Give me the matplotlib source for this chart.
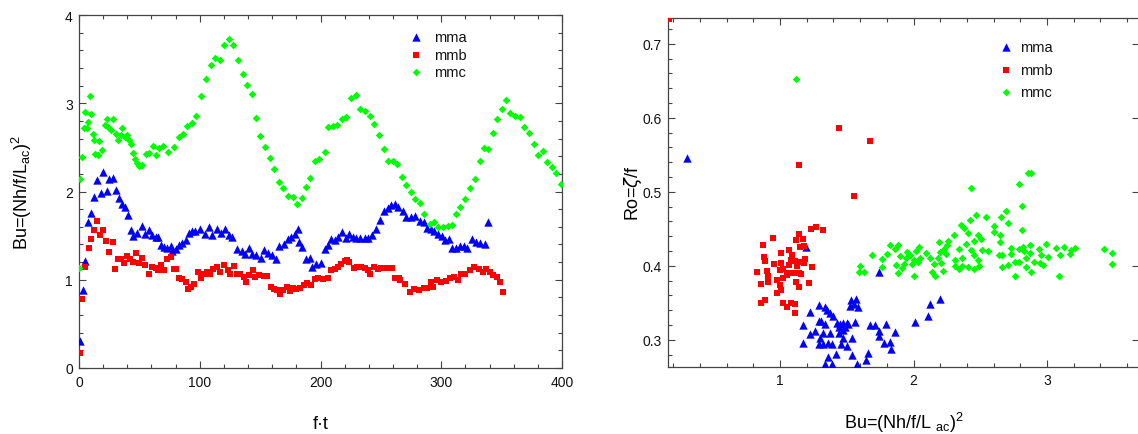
import matplotlib
matplotlib.use("Agg")
import matplotlib.pyplot as plt
from matplotlib.ticker import MultipleLocator

plt.rcParams['font.family'] = ['Liberation Sans', 'DejaVu Sans']
plt.rcParams['mathtext.default'] = 'regular'

# ---------------- left panel data: Bu vs f*t ----------------
mma_t = [0.8, 3.0, 5.2, 7.5, 10.1, 12.4, 15.2, 17.9, 20.1, 22.9, 25.1, 28.1, 30.3, 33.1, 35.3, 37.7,
         40.8, 42.7, 44.6, 48.2, 52.3, 54.3, 57.9, 60.6, 63.4, 65.6, 68.0, 70.8, 73.0, 75.8, 77.1, 80.0,
         82.6, 85.4, 88.2, 90.9, 93.7, 96.4, 100.6, 104.1, 107.4, 110.2, 114.3, 117.5, 120.7, 124.0,
         126.7, 131.0, 134.8, 137.6, 140.6, 143.1, 146.7, 150.8, 153.0, 156.4, 159.7, 163.3, 166.0,
         169.6, 172.9, 175.7, 178.5, 181.2, 182.6, 184.8, 188.1, 190.9, 193.1, 196.4, 200.0, 203.9,
         206.6, 208.8, 211.6, 214.9, 217.7, 221.3, 223.2, 226.8, 229.6, 233.1, 236.5, 239.2, 242.5,
         246.1, 248.9, 252.2, 255.8, 258.5, 261.4, 264.2, 268.3, 271.0, 275.2, 278.5, 282.1, 285.4,
         288.4, 291.2, 293.9, 297.2, 300.6, 303.3, 306.3, 308.8, 312.4, 315.7, 318.5, 321.5, 325.3,
         328.4, 332.5, 336.6, 338.6]
mma_bu = [0.31, 0.88, 1.21, 1.66, 1.76, 1.94, 2.13, 1.98, 2.22, 2.01, 2.14, 2.15, 2.02, 1.93, 1.86, 1.82,
          1.73, 1.56, 1.50, 1.53, 1.61, 1.52, 1.56, 1.51, 1.49, 1.48, 1.39, 1.37, 1.36, 1.38, 1.33, 1.35,
          1.39, 1.42, 1.45, 1.53, 1.55, 1.55, 1.58, 1.52, 1.60, 1.51, 1.58, 1.53, 1.58, 1.51,
          1.48, 1.35, 1.33, 1.29, 1.36, 1.29, 1.28, 1.25, 1.34, 1.30, 1.28, 1.23, 1.38,
          1.41, 1.46, 1.48, 1.52, 1.57, 1.43, 1.37, 1.24, 1.25, 1.14, 1.18, 1.19, 1.35,
          1.39, 1.46, 1.45, 1.48, 1.54, 1.47, 1.52, 1.49, 1.47, 1.47, 1.47, 1.47, 1.51,
          1.58, 1.68, 1.78, 1.81, 1.85, 1.86, 1.83, 1.78, 1.71, 1.71, 1.72, 1.67, 1.65,
          1.59, 1.58, 1.55, 1.52, 1.50, 1.45, 1.46, 1.36, 1.36, 1.38, 1.38, 1.36, 1.46,
          1.43, 1.42, 1.41, 1.66]

mmb_t = [0.7, 2.8, 5.0, 8.0, 10.2, 12.5, 15.3, 17.7, 20.0, 22.5, 25.2, 27.8, 30.2, 32.4, 34.8, 37.5,
         40.0, 42.3, 45.0, 47.6, 50.0, 52.5, 54.7, 57.7, 60.2, 63.4, 65.6, 68.3, 70.8, 73.0, 75.8, 78.5,
         80.7, 82.6, 85.4, 88.2, 90.1, 92.8, 95.6, 98.3, 101.1, 103.3, 106.1, 108.3, 111.0, 114.3,
         117.1, 119.8, 123.1, 125.3, 128.1, 130.5, 133.7, 136.5, 138.4, 141.2, 144.0, 145.9, 149.4,
         152.8, 155.8, 158.6, 161.3, 164.1, 166.6, 169.3, 172.4, 175.1, 177.1, 179.8, 183.1, 186.2,
         188.9, 192.3, 195.6, 198.3, 201.9, 206.1, 208.3, 211.6, 214.4, 217.1, 219.9, 222.1, 224.0,
         227.6, 230.4, 233.7, 236.5, 239.2, 241.4, 244.2, 247.5, 250.3, 253.0, 255.8, 259.4, 261.8,
         264.6, 266.1, 269.7, 273.8, 277.4, 281.3, 285.4, 288.4, 291.2, 293.4, 296.4, 300.0, 303.6,
         306.9, 310.5, 313.8, 316.5, 319.8, 323.7, 327.5, 330.9, 334.4, 337.2, 340.0, 342.7, 346.0,
         348.5, 351.2]
mmb_bu = [0.17, 0.78, 1.14, 1.36, 1.46, 1.56, 1.67, 1.51, 1.56, 1.44, 1.32, 1.43, 1.12, 1.24, 1.24, 1.19,
          1.27, 1.24, 1.20, 1.30, 1.19, 1.25, 1.17, 1.06, 1.15, 1.13, 1.11, 1.17, 1.11, 1.24, 1.26, 1.12,
          1.12, 1.02, 1.01, 0.98, 0.89, 0.92, 0.95, 1.09, 1.02, 1.07, 1.09, 1.07, 1.12, 1.14,
          1.09, 1.17, 1.11, 1.07, 1.16, 1.07, 1.06, 1.03, 0.97, 1.05, 1.11, 1.03, 1.05,
          1.04, 1.04, 0.92, 0.89, 0.88, 0.84, 0.88, 0.92, 0.87, 0.91, 0.90, 0.91, 0.94,
          0.96, 0.94, 1.01, 1.02, 1.01, 1.02, 1.11, 1.12, 1.15, 1.18, 1.21, 1.22, 1.20,
          1.13, 1.15, 1.14, 1.13, 1.11, 1.06, 1.14, 1.12, 1.13, 1.13, 1.13, 1.13, 1.02,
          1.02, 1.00, 0.95, 0.86, 0.90, 0.88, 0.91, 0.91, 0.98, 0.92, 1.00, 0.98, 0.99,
          1.02, 1.03, 1.00, 1.07, 1.06, 1.11, 1.14, 1.12, 1.09, 1.12, 1.09, 1.05, 1.03,
          0.97, 0.86]

mmc_t = [0.0, 1.2, 2.5, 3.8, 5.3, 6.8, 7.5, 9.0, 10.3, 11.7, 12.8, 13.6, 15.8, 16.5, 18.9, 21.8, 23.2,
         24.3, 26.4, 28.1, 31.0, 32.4, 34.4, 35.8, 38.0, 40.0, 41.3, 43.0, 44.8, 46.2, 48.0, 50.0, 52.5,
         55.9, 58.3, 61.0, 64.0, 66.6, 69.4, 74.0, 78.8, 82.6, 86.2, 89.8, 93.4, 97.3, 101.4, 105.5,
         109.3, 112.5, 116.5, 120.3, 124.0, 127.7, 131.5, 135.6, 139.3, 143.3, 146.3, 150.3, 154.3,
         158.0, 161.7, 165.3, 169.0, 172.7, 177.0, 180.7, 184.4, 188.0, 191.7, 195.4, 199.0, 203.4,
         206.4, 210.7, 213.8, 217.5, 221.5, 225.5, 229.8, 232.8, 236.8, 240.8, 244.5, 248.5, 252.5,
         256.0, 259.8, 263.3, 267.5, 271.0, 275.0, 278.6, 282.4, 286.0, 290.4, 294.0, 297.5, 301.5,
         305.5, 309.0, 312.2, 315.7, 319.8, 323.9, 328.1, 331.7, 335.0, 339.1, 342.7, 346.3, 350.1,
         354.0, 357.3, 361.2, 365.0, 368.9, 372.5, 376.6, 379.9, 384.0, 387.6, 391.5, 395.3, 399.2]
mmc_bu = [1.13, 2.14, 2.39, 2.72, 2.90, 2.72, 2.79, 3.08, 2.88, 2.65, 2.58, 2.42, 2.41, 2.57, 2.47, 2.75, 2.82,
          2.73, 2.70, 2.82, 2.65, 2.58, 2.64, 2.72, 2.62, 2.64, 2.58, 2.54, 2.44, 2.37, 2.32, 2.29, 2.30,
          2.43, 2.44, 2.51, 2.41, 2.49, 2.51, 2.45, 2.50, 2.62, 2.65, 2.74, 2.78, 2.86, 3.08, 3.28,
          3.43, 3.51, 3.49, 3.66, 3.73, 3.66, 3.49, 3.33, 3.21, 3.10, 2.83, 2.63, 2.50,
          2.38, 2.25, 2.11, 2.04, 1.95, 1.94, 1.86, 1.93, 2.05, 2.15, 2.35, 2.37, 2.45,
          2.73, 2.74, 2.75, 2.82, 2.84, 3.06, 3.09, 2.94, 2.91, 2.85, 2.76, 2.64, 2.48,
          2.34, 2.34, 2.31, 2.16, 2.07, 1.99, 1.92, 1.87, 1.74, 1.63, 1.66, 1.60, 1.60,
          1.61, 1.62, 1.75, 1.83, 1.92, 2.04, 2.14, 2.34, 2.49, 2.48, 2.66, 2.82, 2.94,
          3.04, 2.89, 2.85, 2.84, 2.73, 2.66, 2.54, 2.41, 2.46, 2.33, 2.28, 2.21, 2.08]

# ---------------- right panel data: Ro vs Bu ----------------
mma_bu2 = [0.30, 1.195, 1.74, 1.29, 1.34, 1.35, 1.375, 1.40, 1.53, 1.57, 1.55, 1.52, 1.58, 1.225, 1.29,
           1.31, 1.34, 1.17, 1.425, 1.45, 1.475, 1.50, 1.49, 1.51, 1.56, 1.44, 1.47, 1.26, 1.225, 1.32,
           1.375, 1.445, 1.54, 1.475, 1.30, 1.29, 1.325, 1.36, 1.39, 1.46, 1.50, 1.175, 1.42, 1.36,
           1.54, 1.34, 1.39, 1.575, 1.66, 1.645, 1.67, 1.71, 1.79, 1.74, 1.74, 1.86, 1.78, 1.825,
           1.83, 2.01, 2.11, 2.12, 2.20]
mma_ro = [0.545, 0.426, 0.392, 0.347, 0.345, 0.341, 0.336, 0.332, 0.354, 0.355, 0.348, 0.346, 0.344, 0.338, 0.326,
          0.326, 0.321, 0.320, 0.323, 0.321, 0.323, 0.323, 0.318, 0.321, 0.324, 0.317, 0.314, 0.312, 0.308, 0.310,
          0.309, 0.309, 0.303, 0.303, 0.303, 0.295, 0.295, 0.296, 0.295, 0.295, 0.292, 0.296, 0.281, 0.277,
          0.280, 0.267, 0.267, 0.268, 0.282, 0.273, 0.320, 0.320, 0.321, 0.312, 0.305, 0.311, 0.296, 0.297,
          0.288, 0.324, 0.332, 0.349, 0.355]

mmb_bu2 = [0.165, 1.44, 1.67, 1.14, 1.55, 1.27, 1.23, 1.325, 0.95, 1.14, 1.12, 1.17, 0.875, 1.15, 1.18,
           1.07, 1.01, 1.09, 0.88, 0.89, 0.955, 1.01, 1.11, 1.19, 1.125, 1.24, 1.025, 1.06, 0.83, 0.90,
           1.14, 1.16, 0.91, 0.975, 1.025, 1.05, 0.86, 0.91, 1.00, 1.12, 1.22, 1.01, 0.975, 0.89, 0.855,
           1.025, 1.05, 1.08, 1.11, 1.11, 1.07, 1.08, 1.16, 1.18, 1.10, 1.02, 1.14, 1.00]
mmb_ro = [0.733, 0.586, 0.569, 0.536, 0.494, 0.453, 0.450, 0.449, 0.438, 0.443, 0.435, 0.436, 0.428, 0.425, 0.427,
          0.422, 0.417, 0.414, 0.412, 0.407, 0.403, 0.404, 0.407, 0.409, 0.400, 0.399, 0.396, 0.391, 0.392, 0.393,
          0.390, 0.389, 0.386, 0.381, 0.384, 0.387, 0.375, 0.378, 0.374, 0.378, 0.377, 0.367, 0.364, 0.354, 0.350,
          0.350, 0.345, 0.350, 0.348, 0.337, 0.401, 0.408, 0.405, 0.404, 0.391, 0.383, 0.371, 0.395]

mmc_bu2 = [1.12, 2.43, 2.47, 2.425, 2.355, 2.38, 2.30, 2.405, 2.48, 2.26, 2.19, 2.25, 2.45, 1.82, 1.88,
           1.86, 2.04, 2.225, 2.34, 2.39, 2.43, 1.80, 1.95, 2.02, 2.095, 2.20, 2.24, 1.69, 1.76, 1.895,
           1.94, 1.975, 2.00, 2.05, 2.125, 2.18, 2.31, 2.36, 2.45, 2.48, 1.87, 1.925, 1.99, 2.03, 2.15,
           2.205, 2.31, 2.36, 2.41, 2.45, 2.49, 1.76, 1.60, 1.59, 1.63, 1.91, 1.88, 2.00, 2.14, 2.16,
           2.22, 2.34,
           2.88, 2.86, 2.79, 2.81, 2.695, 2.54, 2.655, 2.71, 2.60, 2.60, 2.815, 2.65, 2.65, 2.505,
           2.99, 2.87, 2.82, 2.79, 2.73, 2.94, 3.07, 3.125, 3.21, 3.18, 3.43, 3.49, 2.555, 2.51,
           2.825, 2.875, 2.73, 2.64, 2.66, 2.955, 3.01, 3.10, 3.175, 2.84, 2.79, 2.76, 2.905, 2.945,
           2.97, 2.71, 2.66, 2.84, 3.49, 2.76, 2.88, 3.09]
mmc_ro = [0.652, 0.505, 0.469, 0.462, 0.455, 0.451, 0.442, 0.444, 0.441, 0.434, 0.432, 0.428, 0.434, 0.428, 0.428,
          0.423, 0.425, 0.423, 0.423, 0.429, 0.421, 0.416, 0.419, 0.420, 0.418, 0.419, 0.416, 0.414, 0.409, 0.413,
          0.411, 0.414, 0.408, 0.410, 0.410, 0.411, 0.408, 0.411, 0.414, 0.408, 0.401, 0.402, 0.402, 0.405, 0.402,
          0.404, 0.400, 0.400, 0.398, 0.396, 0.400, 0.399, 0.400, 0.392, 0.392, 0.397, 0.390, 0.386, 0.392, 0.386,
          0.393, 0.396,
          0.525, 0.525, 0.511, 0.481, 0.474, 0.466, 0.466, 0.458, 0.454, 0.446, 0.449, 0.442, 0.432, 0.436,
          0.430, 0.428, 0.426, 0.423, 0.424, 0.423, 0.424, 0.426, 0.424, 0.422, 0.423, 0.418, 0.420, 0.421,
          0.420, 0.418, 0.416, 0.414, 0.414, 0.414, 0.412, 0.414, 0.416, 0.410, 0.405, 0.405, 0.405, 0.404,
          0.401, 0.401, 0.399, 0.399, 0.402, 0.386, 0.392, 0.386]

labels = ['mma', 'mmb', 'mmc']
colors = ['#0000ff', '#ff0000', '#00ff00']
markers = ['^', 's', 'D']
msizes = [6.0, 4.5, 3.9]

W, H = 1138, 435
fig = plt.figure(figsize=(W / 100, H / 100), dpi=100)

ax1 = fig.add_axes([79 / W, (H - 369) / H, 483 / W, 353 / H])
ax2 = fig.add_axes([668 / W, (H - 367.5) / H, (1139.5 - 668) / W, (367.5 - 19) / H])

spine_col = '#444444'


def style(ax):
    for s in ax.spines.values():
        s.set_color(spine_col)
        s.set_linewidth(0.9)
    ax.tick_params(which='both', direction='in', top=True, right=True, color=spine_col,
                   width=0.8, labelsize=10, labelcolor='#111111')
    ax.tick_params(which='major', length=5)
    ax.tick_params(which='minor', length=3)
    ax.tick_params(axis='x', pad=5)
    ax.tick_params(axis='y', pad=4.5)


# left panel
for t, v, lab, c, m, ms in zip([mma_t, mmb_t, mmc_t], [mma_bu, mmb_bu, mmc_bu], labels, colors, markers, msizes):
    ax1.scatter(t, v, s=ms ** 2, marker=m, color=c, linewidths=0, zorder=3)
ax1.set_xlim(0, 400)
ax1.set_ylim(0, 4)
ax1.xaxis.set_major_locator(MultipleLocator(100))
ax1.xaxis.set_minor_locator(MultipleLocator(20))
ax1.yaxis.set_major_locator(MultipleLocator(1))
ax1.yaxis.set_minor_locator(MultipleLocator(0.2))
style(ax1)
ax1.set_xlabel('f\u00b7t', fontsize=13, va='center')
ax1.xaxis.set_label_coords(0.5, (369 - 425) / 353)
ax1.set_ylabel('Bu=(Nh/f/L$_{ac}$)$^{2}$', fontsize=13, va='center', ha='center')
ax1.yaxis.set_label_coords((22 - 79) / 483, 0.5)

# right panel
for x, y, lab, c, m, ms in zip([mma_bu2, mmb_bu2, mmc_bu2], [mma_ro, mmb_ro, mmc_ro], labels, colors, markers, msizes):
    ax2.scatter(x, y, s=ms ** 2, marker=m, color=c, linewidths=0, zorder=3)
ax2.set_xlim(0.16, 3.693)
ax2.set_ylim(0.2641, 0.7347)
ax2.xaxis.set_major_locator(MultipleLocator(1))
ax2.xaxis.set_minor_locator(MultipleLocator(0.2))
ax2.yaxis.set_major_locator(MultipleLocator(0.1))
ax2.yaxis.set_minor_locator(MultipleLocator(0.02))
style(ax2)
ax2.tick_params(which='minor', right=False)
ax2.set_xlabel('Bu=(Nh/f/L $_{ac}$)$^{2}$', fontsize=13, va='center')
ax2.xaxis.set_label_coords(0.5, (367.5 - 423) / 348.5)
ax2.set_ylabel('Ro=$\\mathit{\\zeta}$/f', fontsize=13, va='center', ha='center')
ax2.yaxis.set_label_coords((633 - 668) / 471.5, 0.5)

# legends (manual, no frame)
leg1_y = [(369 - 38.3) / 353, (369 - 55.7) / 353, (369 - 73.3) / 353]
leg2_y = [(367.5 - 47.7) / 348.5, (367.5 - 70.7) / 348.5, (367.5 - 92.7) / 348.5]
for ax, xm, xt, ys in [(ax1, (416 - 79) / 483, (434 - 79) / 483, leg1_y),
                       (ax2, (1006 - 668) / 471.5, (1020 - 668) / 471.5, leg2_y)]:
    for lab, c, m, ms, yy in zip(labels, colors, markers, msizes, ys):
        ax.scatter([xm], [yy], s=ms ** 2, marker=m, color=c, linewidths=0,
                   transform=ax.transAxes, clip_on=False, zorder=4)
        ax.text(xt, yy, lab, transform=ax.transAxes, fontsize=10.5, va='center', ha='left',
                color='#111111')

fig.savefig('out.png', dpi=100)
